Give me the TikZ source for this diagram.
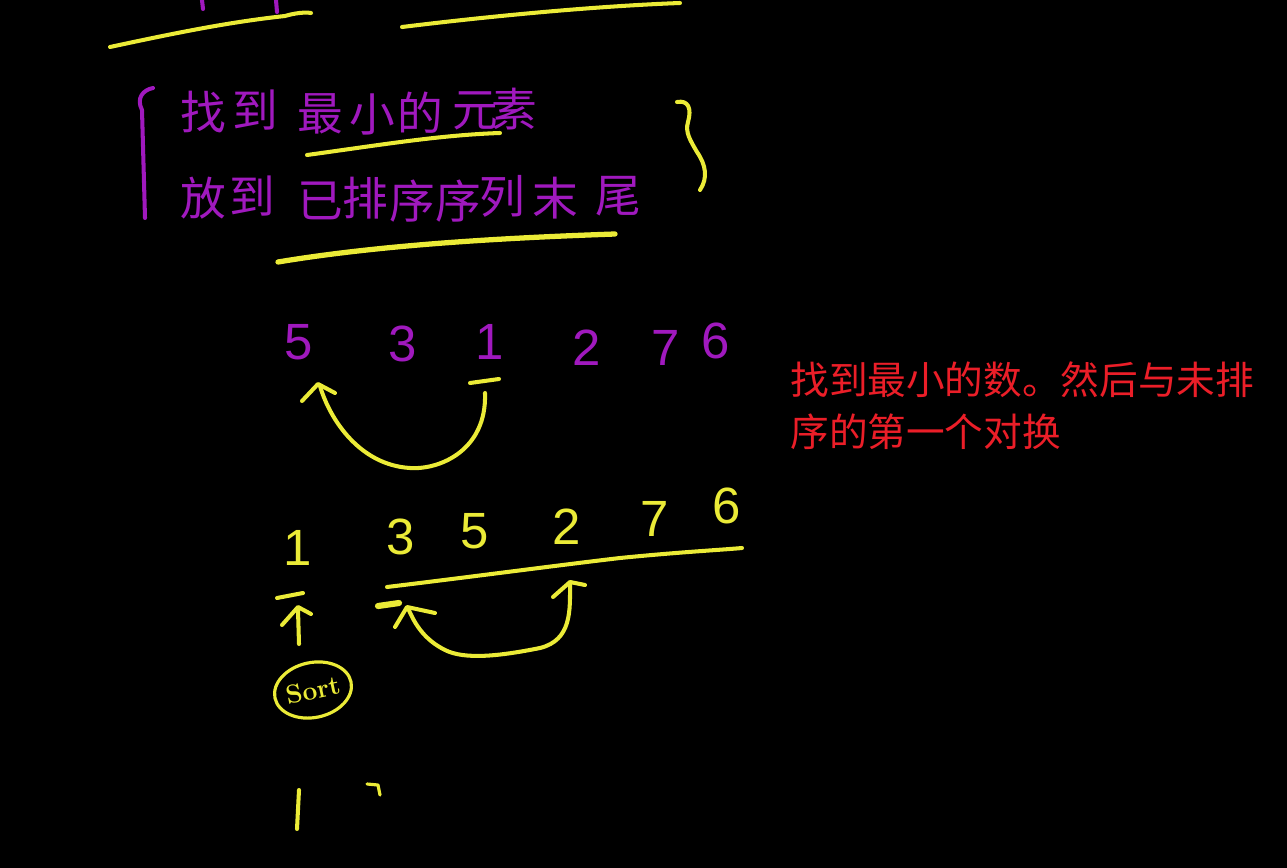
\documentclass[tikz,border=0pt]{standalone}
\usepackage{fontspec}
\usetikzlibrary{shapes.geometric}
\newfontfamily\cjk{Noto Sans CJK SC}
\newfontfamily\digitfont{Liberation Sans}
\definecolor{hwpurple}{RGB}{160,25,190}
\definecolor{hwyellow}{RGB}{235,235,55}
\definecolor{redtxt}{RGB}{235,30,40}
\begin{document}
\begin{tikzpicture}[x=0.02cm,y=-0.02cm,
  yl/.style={draw=hwyellow,line width=2.3pt,line cap=round,line join=round},
  pl/.style={draw=hwpurple,line width=2.3pt,line cap=round,line join=round},
  pch/.style={text=hwpurple,font=\cjk\fontsize{26}{26}\selectfont,inner sep=0pt},
  pnum/.style={text=hwpurple,font=\digitfont\fontsize{29}{29}\selectfont,inner sep=0pt},
  ynum/.style={text=hwyellow,font=\digitfont\fontsize{29}{29}\selectfont,inner sep=0pt},
  redt/.style={text=redtxt,font=\cjk\fontsize{22}{22}\selectfont,anchor=west,inner sep=0pt}]
\fill[black] (0,0) rectangle (1287,868);
\useasboundingbox (0,0) rectangle (1287,868);

% top strokes
\draw[pl] (202,0) -- (203,9);
\draw[pl] (276,0) -- (277,12);
\draw[yl] (110,47) .. controls (180,32) and (230,22) .. (285,16) .. controls (295,13) and (305,12) .. (311,13);
\draw[yl] (402,27) .. controls (500,15) and (600,6) .. (680,3);

% purple bracket and text
\draw[pl] (153,88) .. controls (143,90) and (136,98) .. (142,110) -- (145,218);
\node[pch] (a1) at (203,112) {找};
\node[pch] (a2) at (255,110) {到};
\node[pch] (a3) at (320,114) {最};
\node[pch] (a4) at (372,114) {小};
\node[pch] (a5) at (420,113) {的};
\node[pch] (a6) at (475,111) {元};
\node[pch] (a7) at (514,109) {素};
\node[pch] (b1) at (203,198) {放};
\node[pch] (b2) at (252,196) {到};
\node[pch] (b3) at (320,201) {已};
\node[pch] (b4) at (365,198) {排};
\node[pch] (b5) at (412,201) {序};
\node[pch] (b6) at (458,201) {序};
\node[pch] (b7) at (502,196) {列};
\node[pch] (b8) at (555,198) {末};
\node[pch] (b9) at (618,196) {尾};
\draw[yl] (307,155) .. controls (380,145) and (440,135) .. (500,133);
\draw[yl,line width=3pt] (278,262) .. controls (380,245) and (500,238) .. (615,234);
\draw[yl] (677,102) .. controls (688,100) and (692,108) .. (688,122) .. controls (685,132) and (690,140) .. (697,152) .. controls (706,165) and (708,178) .. (700,190);

% first row
\node[pnum] (p1) at (299,342) {5};
\node[pnum] (p2) at (403,344) {3};
\node[pnum] (p3) at (490,342) {1};
\node[pnum] (p4) at (587,348) {2};
\node[pnum] (p5) at (666,348) {7};
\node[pnum] (p6) at (716,341) {6};
\draw[yl] (470,383) -- (499,379);
\coordinate (s1) at (485,393);
\coordinate (e1) at (320,386);
\draw[yl] (s1) .. controls (487,450) and (440,470) .. (410,468) .. controls (360,465) and (330,420) .. (e1);
\draw[yl] (302,401) -- (318,384) -- (335,393);

% red note
\node[redt] (r1) at (790,380) {找到最小的数。然后与未排};
\node[redt] (r2) at (790,432) {序的第一个对换};

% second row
\node[ynum] (q1) at (298,548) {1};
\node[ynum] (q2) at (401,537) {3};
\node[ynum] (q3) at (475,531) {5};
\node[ynum] (q4) at (567,527) {2};
\node[ynum] (q5) at (655,519) {7};
\node[ynum] (q6) at (727,506) {6};
\draw[yl] (387,587) .. controls (470,577) and (560,565) .. (620,558) .. controls (680,552) and (720,550) .. (742,548);

\draw[yl] (277,598) -- (303,593);
\draw[yl] (298,610) -- (299,644);
\draw[yl] (282,625) -- (298,607) -- (311,614);

\draw[yl,line width=3.5pt] (378,606) -- (399,603);
\coordinate (s2) at (570,584);
\coordinate (e2) at (408,608);
\draw[yl] (s2) .. controls (570,610) and (572,640) .. (540,648) .. controls (500,656) and (465,660) .. (445,650) .. controls (425,640) and (415,625) .. (e2);
\draw[yl] (395,627) -- (407,607) -- (435,613);
\draw[yl] (553,597) -- (570,582) -- (585,585);

% sort
\node[draw=hwyellow,line width=1.8pt,ellipse,inner sep=0pt,
  text=hwyellow,rotate=12,font=\bfseries\fontsize{15}{15}\selectfont,
  minimum width=1.32cm,minimum height=1.1cm] (sort) at (313,690)
  {Sort};

% bottom
\draw[yl] (299,790) -- (297,829);
\draw[yl,line width=1.8pt] (367,784) -- (378,785) -- (380,795);
\end{tikzpicture}
\end{document}
